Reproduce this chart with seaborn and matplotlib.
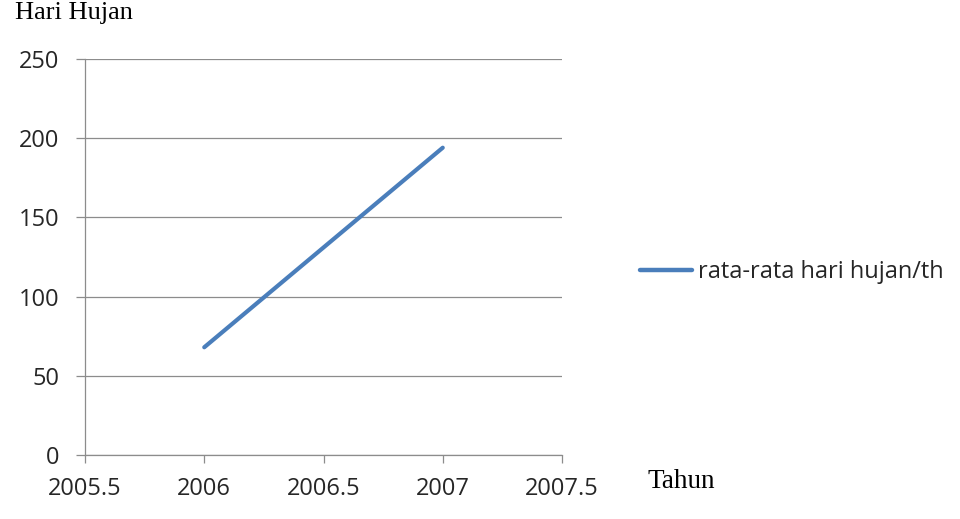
import matplotlib
matplotlib.use("Agg")
import matplotlib.pyplot as plt
import seaborn as sns
import pandas as pd

years = [2006, 2007]
hari_hujan = [68, 194]
series_name = "rata-rata hari hujan/th"
x_ticks = [2005.5, 2006, 2006.5, 2007, 2007.5]
y_ticks = [0, 50, 100, 150, 200, 250]

df = pd.DataFrame({"Tahun": years, "Hari Hujan": hari_hujan, "series": series_name})

sns.set_theme(style="white")
plt.rcParams['font.family'] = ['Open Sans', 'DejaVu Sans']

fig = plt.figure(figsize=(9.6, 5.19), dpi=100)
ax = fig.add_axes([85/960, 64/519, (562-85)/960, (455-59)/519])

sns.lineplot(data=df, x="Tahun", y="Hari Hujan", hue="series", palette=["#4A7EBB"],
             linewidth=3.0, ax=ax, legend=True)
for l in ax.lines:
    l.set_solid_capstyle("round")

ax.set_xlim(2005.5, 2007.5)
ax.set_ylim(0, 250)
ax.set_xticks(x_ticks)
ax.set_xticklabels([f"{t:g}" for t in x_ticks])
ax.set_yticks(y_ticks)
ax.set_yticklabels([str(t) for t in y_ticks])
ax.yaxis.grid(True, color="#8c8c8c", linewidth=0.9)
ax.xaxis.grid(False)
ax.set_axisbelow(True)
for s in ["top", "right"]:
    ax.spines[s].set_visible(False)
for s in ["left", "bottom"]:
    ax.spines[s].set_color("#8c8c8c")
    ax.spines[s].set_linewidth(0.9)
ax.tick_params(axis="both", which="major", direction="out", width=0.9,
               color="#8c8c8c", labelsize=17, labelcolor="#262626")
ax.tick_params(axis="x", bottom=True, length=6, pad=10)
ax.tick_params(axis="y", left=True, length=6.5, pad=12)
ax.set_xlabel("")
ax.set_ylabel("")

fig.text(15/960, 1 - 13/519, "Hari Hujan", family="Liberation Serif", fontsize=19,
         va="center", ha="left", color="black")
fig.text(648/960, 1 - 481/519, "Tahun", family="Liberation Serif", fontsize=19.5,
         va="center", ha="left", color="black")

leg = ax.legend(loc="center left", bbox_to_anchor=(640/960, 1 - 272/519),
                bbox_transform=fig.transFigure, frameon=False, fontsize=17,
                handlelength=2.2, handletextpad=0.25, borderpad=0, borderaxespad=0)
for line in leg.get_lines():
    line.set_linewidth(3.2)

fig.savefig("out.png", dpi=100)
